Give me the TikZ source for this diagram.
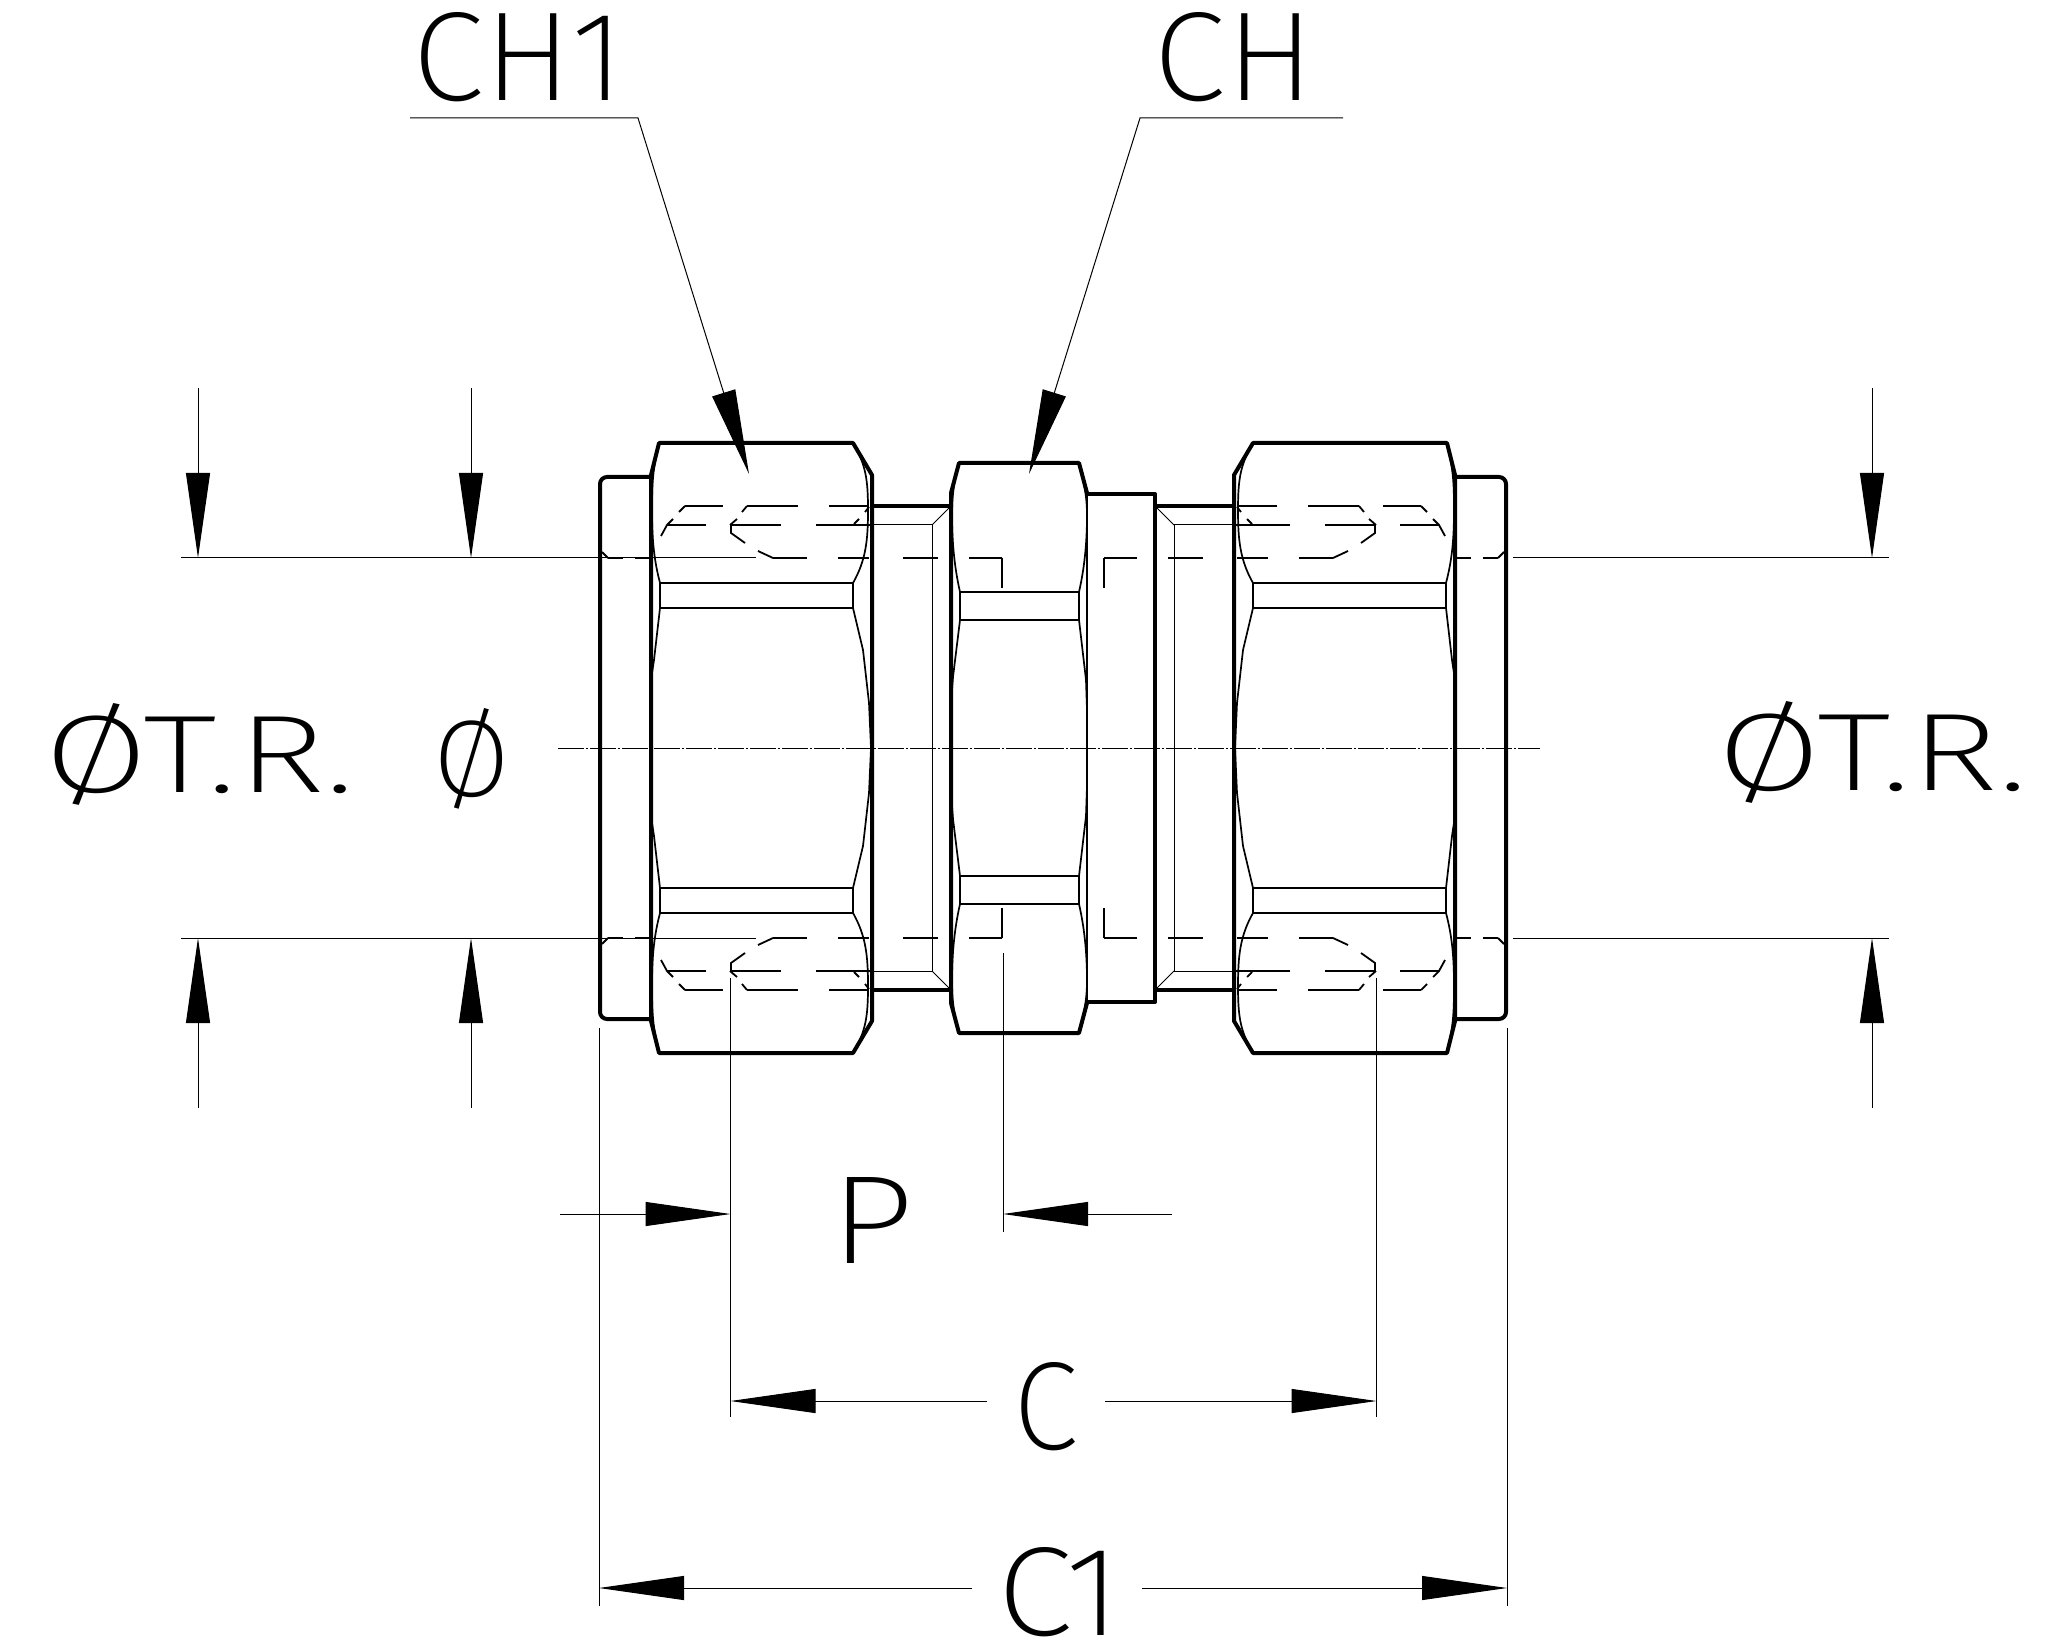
\documentclass[tikz,border=0pt]{standalone}
\usepackage{fontspec}
\usepackage{graphicx}
\usetikzlibrary{arrows.meta}
\newfontfamily\dimfont{Fira Sans ExtraLight}

\newcommand{\dimtxt}[3]{\resizebox{#1pt}{#2pt}{\dimfont #3}}

\tikzset{
    thickline/.style={line width=2pt,line join=round,line cap=round},
    medline/.style={line width=0.85pt,line join=round},
    thinline/.style={line width=0.5pt},
    hiddenline/.style={line width=0.9pt},
    centreline/.style={line width=0.5pt,dash pattern=on 13pt off 1pt on 1pt off 1pt},
    dimarrow/.style={line width=0.5pt,-{Triangle[length=42.5pt,width=12pt]}},
    dimtext/.style={inner sep=0pt,outer sep=0pt},
}

% one quarter of the body: collar, nut, tube and hidden lines
\newcommand{\bodycorner}{
    \draw[thickline,rounded corners=3.5pt] (600,748) -- (600,477) -- (651,477);
    \draw[thickline] (651,748) -- (651,475) -- (659,443) -- (853,443) -- (872,475) -- (872,748);
    \draw[thickline] (872,506) -- (951,506);
    \draw[thinline] (872,525) -- (932,525) -- (932,748);
    \draw[thinline] (932,525) -- (951,506);
    % hex faces
    \draw[medline] (660,583) rectangle (853,608);
    \draw[medline] (853,443) .. controls (866,465) and (868,480) .. (868,510) .. controls (868,540) and (866,560) .. (853,583);
    \draw[medline] (659,443) .. controls (653,470) and (652,480) .. (652,510) .. controls (652,540) and (654,560) .. (660,583);
    \draw[medline] (853,608) -- (863,650) -- (869,703) -- (871,748);
    \draw[medline] (660,608) -- (654,660) -- (651,680);
    % hidden lines
    \foreach \xa/\xb in {685/723,747/798,829/869}
        \draw[hiddenline] (\xa,506) -- (\xb,506);
    \foreach \xa/\xb in {667/706,730/781,816/870}
        \draw[hiddenline] (\xa,525) -- (\xb,525);
    \foreach \xa/\xb in {608/623,635/650,773/807,838/869,903/938,969/1002}
        \draw[hiddenline] (\xa,558) -- (\xb,558);
    \draw[hiddenline] (679,512) -- (685,506);
    \draw[hiddenline] (742,512) -- (747,506);
    \draw[hiddenline] (865,512) -- (869,507);
    \draw[hiddenline] (661,536) -- (667,525) -- (673,519);
    \draw[hiddenline] (730,525) -- (737,519);
    \draw[hiddenline] (854,524) -- (859,519);
    \draw[hiddenline] (731,525) -- (731,533) -- (745,543);
    \draw[hiddenline] (758,551) -- (773,558);
    \draw[hiddenline] (1002,558) -- (1002,588);
    \draw[hiddenline] (602,552) -- (608,558);
}

% upper half of the middle hexagon
\newcommand{\hexhalf}{
    \draw[thickline] (951,748) -- (951,493) -- (959,463) -- (1079,463) -- (1087,493);
    \draw[medline] (1087,493) -- (1087,748);
    \draw[medline] (960,592) rectangle (1079,620);
    \draw[medline] (959,463) .. controls (953,485) and (952,500) .. (952,515) .. controls (952,545) and (955,570) .. (960,592);
    \draw[medline] (1079,463) .. controls (1085,485) and (1087,500) .. (1087,515) .. controls (1087,545) and (1084,570) .. (1079,592);
    \draw[medline] (960,620) -- (953,677) -- (951,703);
    \draw[medline] (1079,620) -- (1086,680) -- (1087,710);
}

\begin{document}
\begin{tikzpicture}[x=0.5pt,y=-0.5pt]
    \useasboundingbox (0,0) rectangle (2055,1652);

    \foreach \ox/\sx in {0/1,2106/-1}
        \foreach \oy/\sy in {0/1,1496/-1} {
            \begin{scope}[shift={(\ox,\oy)},xscale=\sx,yscale=\sy]
                \bodycorner
            \end{scope}
        }
    \foreach \oy/\sy in {0/1,1496/-1} {
        \begin{scope}[shift={(0,\oy)},yscale=\sy]
            \hexhalf
        \end{scope}
    }
    \draw[thickline] (1087,494) -- (1155,494) -- (1155,1002) -- (1087,1002);

    \draw[centreline] (558,748) -- (1540,748);

    % extension lines
    \draw[thinline] (181,558) -- (756,558);
    \draw[thinline] (181,938) -- (756,938);
    \draw[thinline] (1513,558) -- (1889,558);
    \draw[thinline] (1513,938) -- (1889,938);
    \draw[thinline] (599,1028) -- (599,1606);
    \draw[thinline] (1507,1028) -- (1507,1606);
    \draw[thinline] (730.5,978) -- (730.5,1417);
    \draw[thinline] (1376.5,978) -- (1376.5,1417);
    \draw[thinline] (1003,953) -- (1003,1232);

    % arrows onto the diameters
    \foreach \xa in {198,471,1872} {
        \draw[dimarrow] (\xa,388) -- (\xa,558);
        \draw[dimarrow] (\xa,1108) -- (\xa,938);
    }

    % labels
    \node[dimtext] (labelChA) at (519,57) {\dimtxt{106}{44}{CH1}};
    \node[dimtext] (labelChB) at (1234,57) {\dimtxt{80}{44}{CH}};
    \node[dimtext] (labelTrL) at (199.6,754) {\dimtxt{155}{44.5}{ØT.R.}};
    \node[dimtext] (labelDia) at (472,759) {\dimtxt{38.4}{44}{Ø}};
    \node[dimtext] (labelTrR) at (1873,752.5) {\dimtxt{155}{44.5}{ØT.R.}};
    \node[dimtext] (labelP) at (872,1220) {\dimtxt{41.7}{43}{P}};
    \node[dimtext] (labelC) at (1045.5,1406.5) {\dimtxt{32.4}{43.5}{C}};
    \node[dimtext] (labelCa) at (1059,1592) {\dimtxt{62}{44}{C1}};

    % leaders
    \coordinate (leadA) at (410,118);
    \coordinate (kneeA) at (638,118);
    \coordinate (tipA) at (749,474);
    \coordinate (leadB) at (1343,118);
    \coordinate (kneeB) at (1140,118);
    \coordinate (tipB) at (1029,474);
    \draw[dimarrow] (leadA) -- (kneeA) -- (tipA);
    \draw[dimarrow] (leadB) -- (kneeB) -- (tipB);

    % length dimensions
    \coordinate (pLeft) at (730.5,1214);
    \coordinate (pRight) at (1003,1214);
    \coordinate (cLeft) at (730.5,1401);
    \coordinate (cRight) at (1376.5,1401);
    \coordinate (caLeft) at (599,1588);
    \coordinate (caRight) at (1507,1588);
    \draw[dimarrow] (560,1214) -- (pLeft);
    \draw[dimarrow] (1172,1214) -- (pRight);
    \draw[dimarrow] (987,1401) -- (cLeft);
    \draw[dimarrow] (1105,1401) -- (cRight);
    \draw[dimarrow] (972,1588) -- (caLeft);
    \draw[dimarrow] (1142,1588) -- (caRight);
\end{tikzpicture}
\end{document}
